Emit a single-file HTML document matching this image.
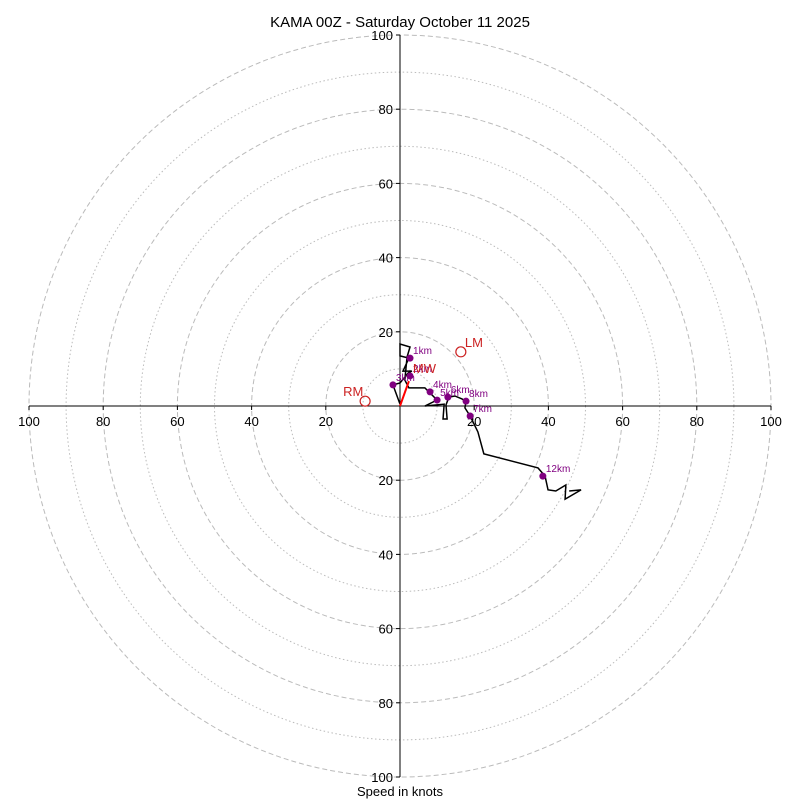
<!DOCTYPE html>
<html><head><meta charset="utf-8"><style>
body{margin:0;background:#fff}
svg text{font-family:"Liberation Sans","DejaVu Sans",sans-serif}
</style></head><body>
<svg id="c" width="800" height="800" xmlns="http://www.w3.org/2000/svg">
<text x="400" y="27" text-anchor="middle" font-size="15">KAMA 00Z - Saturday October 11 2025</text>
<text x="400" y="796" text-anchor="middle" font-size="13">Speed in knots</text>
<g id="grid"></g><g id="axes"></g><g id="series"></g>
</svg>
<script>
const pathU=[0,-1.9,0,2.2,3.2,0.8,2.4,0,0,2.7,1.9,1.3,2.4,6.7,8.1,10.0,6.7,11.9,11.6,12.7,12.4,13.2,14.8,16.7,17.8,17.5,18.9,21.0,22.6,37.2,39.1,39.9,42.0,44.7,44.5,48.8,45.6];
const pathV=[0.5,5.7,6.2,8.9,9.4,9.4,12.9,13.5,16.7,15.9,13.2,7.0,4.9,4.9,3.5,1.6,0,0.5,-3.5,-3.5,0.3,2.4,2.7,1.9,1.3,-0.5,-2.7,-7.0,-12.9,-16.7,-18.9,-22.6,-22.9,-21.3,-25.1,-22.6,-22.9];
const dotLabels=["1km","2km","3km","4km","5km","6km","7km","8km","12km"];
const dotU=[2.7,2.7,-1.9,8.1,10.0,12.9,18.9,17.8,38.5];
const dotV=[12.9,8.1,5.7,3.8,1.6,2.4,-2.7,1.3,-18.9];
const motionLabels=["RM","LM","MW"];
const motionU=[-9.4,16.4,2.4];
const motionV=[1.3,14.6,6.7];
const ringVals=[10,20,30,40,50,60,70,80,90,100];
const tickVals=[20,40,60,80,100];

const cx=400,cy=406,k=3.71;
const X=u=>cx+u*k, Y=v=>cy-v*k;
const NS="http://www.w3.org/2000/svg";
function mk(tag,attrs,parent){const e=document.createElementNS(NS,tag);for(const a in attrs)e.setAttribute(a,attrs[a]);parent.appendChild(e);return e;}
const grid=document.getElementById('grid'),axes=document.getElementById('axes'),ser=document.getElementById('series');
ringVals.forEach(r=>{
 const e=mk('circle',{cx:cx,cy:cy,r:r*k,fill:'none',stroke:'#bbb','stroke-width':1,'stroke-dasharray':r%20===0?'5,3':'1.5,2.5'},grid);
 
 
});
let e=mk('line',{x1:X(-100),y1:cy,x2:X(100),y2:cy,stroke:'#000','stroke-width':1},axes);


e=mk('line',{x1:cx,y1:Y(100),x2:cx,y2:Y(-100),stroke:'#000','stroke-width':1},axes);


tickVals.forEach(t=>{
 [-1,1].forEach(s=>{
  mk('line',{x1:X(s*t),y1:cy,x2:X(s*t),y2:cy+4,stroke:'#000'},axes);
  let tx=mk('text',{x:X(s*t),y:cy+20,'text-anchor':'middle','font-size':13},axes);tx.textContent=t;
  
  
  mk('line',{x1:cx-4,y1:Y(s*t),x2:cx,y2:Y(s*t),stroke:'#000'},axes);
  let ty=mk('text',{x:cx-7,y:Y(s*t)+5,'text-anchor':'end','font-size':13},axes);ty.textContent=t;
  
  
 });
});
const pl=mk('polyline',{points:pathU.map((u,i)=>X(u)+','+Y(pathV[i])).join(' '),fill:'none',stroke:'#000','stroke-width':1.5},ser);


dotLabels.forEach((l,i)=>{
 const d=mk('circle',{cx:X(dotU[i]),cy:Y(dotV[i]),r:3.5,fill:'purple'},ser);
 
 
 const t=mk('text',{x:X(dotU[i])+3,y:Y(dotV[i])-4,'font-size':10,fill:'purple'},ser);t.textContent=l;
 
 
});
const a=mk('line',{x1:cx,y1:cy,x2:X(motionU[2]),y2:Y(motionV[2]),stroke:'red','stroke-width':2},ser);


motionLabels.forEach((l,i)=>{
 const x=X(motionU[i]),y=Y(motionV[i]);
 if(l!=='MW'){
  const c=mk('circle',{cx:x,cy:y,r:5,fill:'none',stroke:'#c22','stroke-width':1.2},ser);
  
  
 }
 const t=mk('text',{x:l==='RM'?x-22:x+4,y:l==='MW'?y-8:y-5,'font-size':13,fill:'#c22'},ser);t.textContent=l;
 
 
});
</script>
</body></html>
